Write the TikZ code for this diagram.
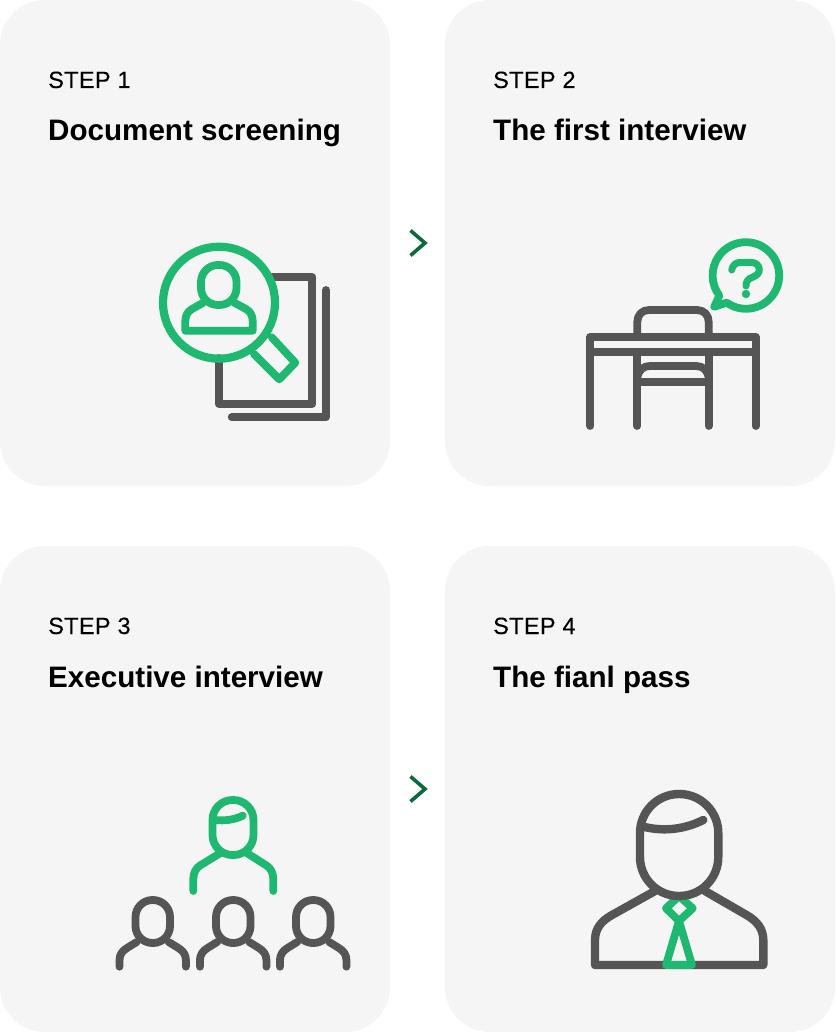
\documentclass[tikz,border=0pt]{standalone}
\usepackage{fontspec}
\setmainfont{Liberation Sans}
\newfontfamily\stepfont[LetterSpace=1.5,FakeBold=0.25]{Liberation Sans}
\definecolor{cardbg}{HTML}{F5F5F5}
\definecolor{icongray}{HTML}{555555}
\definecolor{icongreen}{HTML}{1FB871}
\definecolor{chevgreen}{HTML}{0A6B3D}
\tikzset{
  card/.style={fill=cardbg,draw=none,rounded corners=45pt},
  steplabel/.style={anchor=base west,inner sep=0pt,font=\stepfont\fontsize{23.5}{28}\selectfont,text=black},
  titlelabel/.style={anchor=base west,inner sep=0pt,font=\bfseries\fontsize{29.6}{34}\selectfont,text=black},
  gline/.style={draw=icongray,line width=7.8pt,line cap=round,line join=round},
  gnline/.style={draw=icongreen,line width=7.8pt,line cap=round,line join=round},
  chev/.style={draw=chevgreen,line width=3.6pt,line join=miter,line cap=butt},
}
\newcommand{\smallperson}[1]{%
  \begin{scope}[xshift=#1pt]
    \draw[gline,rounded corners=17pt] (-0.5,900) rectangle (34,943);
    \draw[gline] (0.7,942) -- (-9,948) .. controls (-14,951) and (-16.5,955) .. (-16.5,960) -- (-16.5,966.7);
    \draw[gline] (32.7,942) -- (42.4,948) .. controls (47.4,951) and (49.9,955) .. (49.9,960) -- (49.9,966.7);
  \end{scope}}
\begin{document}
\begin{tikzpicture}[x=1pt,y=1pt,yscale=-1]
\useasboundingbox (0,0) rectangle (836,1032);
\fill[white] (0,0) rectangle (836,1032);
% cards
\path[card] (0,0) rectangle (390,486);
\path[card] (445,0) rectangle (835,486);
\path[card] (0,546) rectangle (390,1032);
\path[card] (445,546) rectangle (835,1032);
% text
\node[steplabel] (s1) at (48,88) {STEP 1};
\node[titlelabel] (t1) at (48,141) {Document screening};
\node[steplabel] (s2) at (493,88) {STEP 2};
\node[titlelabel] (t2) at (493,141) {The first interview};
\node[steplabel] (s3) at (48,634) {STEP 3};
\node[titlelabel] (t3) at (48,687) {Executive interview};
\node[steplabel] (s4) at (493,634) {STEP 4};
\node[titlelabel] (t4) at (493,687) {The fianl pass};
% chevrons
\draw[chev] (410.5,230.5) -- (425,243) -- (410.5,255.5);
\draw[chev] (410.5,776.5) -- (425,789) -- (410.5,801.5);
% icon 1
\draw[gline] (272,277) -- (312.3,277) -- (312.3,404) -- (218.7,404) -- (218.7,358);
\draw[gline] (326,290) -- (326,417.3) -- (231.7,417.3);
\draw[gnline,line width=8.2pt] (219,302.7) circle[radius=56];
\draw[gnline] (271.7,337.3) -- (295.3,362.7) -- (279.3,379.3) -- (254,354);
\draw[gnline,rounded corners=17pt] (201,265) rectangle (236.5,305);
\draw[gnline] (203.3,302.7) -- (192,309) .. controls (187.5,311.5) and (185.3,316) .. (185.3,321) -- (185.3,330.7) -- (252.7,330.7) -- (252.7,321) .. controls (252.7,316) and (250.5,311.5) .. (246,309) -- (234.3,302.7);
% icon 2
\draw[gline] (590.3,426) -- (590.3,336.7) -- (755.7,336.7) -- (755.7,426);
\draw[gline] (590.3,352.3) -- (755.7,352.3);
\draw[gline] (637.3,336.7) -- (637.3,322) .. controls (637.3,315) and (642,310) .. (649,310) -- (697,310) .. controls (704,310) and (708.7,315) .. (708.7,322) -- (708.7,336.7);
\draw[gline] (637.3,352.3) -- (637.3,426);
\draw[gline] (708.7,352.3) -- (708.7,426);
\draw[gline] (637.3,377) .. controls (639,370) and (643,366) .. (650,366) -- (696,366) .. controls (703,366) and (707,370) .. (708.7,377);
\draw[gline] (637.3,381.7) -- (708.7,381.7);
\draw[gnline] (726.7,302.7) arc[start angle=125.2,end angle=-217.1,radius=33.3] -- (714.3,306.7) -- cycle;
\draw[gnline,line width=7pt] (731.7,270) .. controls (732.5,265) and (736,262.3) .. (741,262.3) -- (750,262.3) .. controls (756,262.3) and (759.3,265.5) .. (759.3,269.5) .. controls (759.3,273) and (757,275.5) .. (753,277) .. controls (748,279) and (746,281) .. (746,286);
\fill[icongreen] (746,294) circle[radius=4.2];
% icon 3
\draw[gnline,rounded corners=20pt] (212.5,800) rectangle (253.5,855);
\draw[gnline] (215,820) .. controls (224,821) and (234,820) .. (242.7,815.7);
\draw[gnline] (220,853.3) -- (200,865.5) .. controls (196,868) and (193.3,873) .. (193.3,879) -- (193.3,891);
\draw[gnline] (247.3,853.3) -- (266.5,865.5) .. controls (270.5,868) and (273.3,873) .. (273.3,879) -- (273.3,891);
\smallperson{136}
\smallperson{216.5}
\smallperson{296.5}
% icon 4
\draw[gnline] (679,896) -- (692.7,908.3) -- (679,921) -- (666,908.3) -- cycle;
\draw[gline,line width=8.4pt] (655,891) -- (612,915) .. controls (601,921) and (595,929) .. (595,940) -- (595,965) -- (763.3,965) -- (763.3,940) .. controls (763.3,929) and (757,921) .. (746.5,915) -- (705,891);
\draw[gnline] (679,921) -- (666,965) -- (692,965) -- cycle;
\draw[gline,line width=8.4pt,rounded corners=39pt] (640,794) rectangle (718.3,896);
\draw[gline,line width=8.4pt] (643.3,826.7) .. controls (665,832) and (685,829) .. (703.3,820);
\end{tikzpicture}
\end{document}
